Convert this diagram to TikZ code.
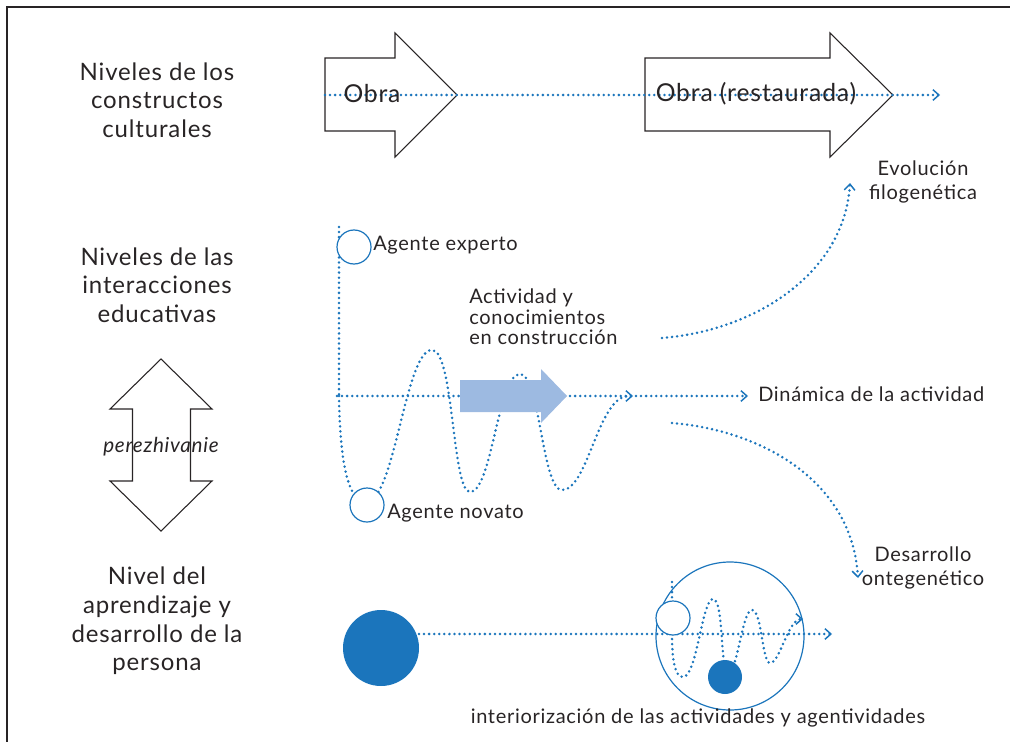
\documentclass[tikz,border=0pt]{standalone}
\usepackage{fontspec}
\setmainfont{Lato}[LetterSpace=3.5]
\usetikzlibrary{arrows.meta}
\definecolor{dotblue}{RGB}{27,117,188}
\definecolor{lightblue}{RGB}{157,186,225}
\definecolor{txt}{RGB}{40,36,37}
\begin{document}
\begin{tikzpicture}[x=0.75pt,y=-0.75pt,
  dotline/.style={draw=dotblue, line width=2.1pt, line cap=round, dash pattern=on 0pt off 3.8pt},
  tip/.style={-{Straight Barb[length=4.5pt,width=8pt,line width=1.1pt]}},
  blockarrow/.style={draw=txt, line width=0.8pt, fill=white},
  ring/.style={circle, draw=dotblue, line width=0.9pt, fill=white, inner sep=0pt},
  disc/.style={circle, fill=dotblue, draw=none, inner sep=0pt},
  bigtext/.style={text=txt, align=center, font=\fontsize{18}{21.5}\selectfont},
  midtext/.style={text=txt, font=\fontsize{15}{18}\selectfont},
  obratext/.style={text=txt, font=\fontsize{18.5}{20}\selectfont}]
\useasboundingbox (0,0) rectangle (1010,742);
% frame
\draw[line width=1.6pt, txt] (7,742) -- (7,7) -- (1010,7);

% left labels
\node[bigtext] (lv1) at (157,100) {Niveles de los\\constructos\\culturales};
\node[bigtext] (lv2) at (157,285) {Niveles de las\\interacciones\\educativas};
\node[bigtext] (lv3) at (157,621) {Nivel del\\aprendizaje y\\desarrollo de la\\persona};

% double arrow
\draw[blockarrow] (161,359) -- (212,409) -- (190.5,409) -- (190.5,481) -- (212,481) -- (161,531)
  -- (110,481) -- (132.5,481) -- (132.5,409) -- (110,409) -- cycle;
\node[text=txt, font=\fontsize{15.5}{16}\selectfont\itshape] (pz) at (161,447) {perezhivanie};

% top block arrows
\draw[blockarrow] (325,58) -- (395,58) -- (395,33) -- (457,95) -- (395,157) -- (395,131) -- (325,131) -- cycle;
\draw[blockarrow] (645,58) -- (830,58) -- (830,33) -- (893,95) -- (830,157) -- (830,131) -- (645,131) -- cycle;
\coordinate (t0) at (325,95);
\coordinate (t1) at (940,95);
\draw[dotline, tip] (t0) -- (t1);
\node[obratext] (obra1) at (372,94) {Obra};
\node[obratext] (obra2) at (756,94) {Obra (restaurada)};

% middle structure
\coordinate (v0) at (339,227);
\coordinate (v1) at (339,396);
\coordinate (h0) at (337,396);
\coordinate (h1) at (633,396);
\coordinate (h2) at (636,396);
\coordinate (h3) at (748,396);
\draw[dotline] (v0) -- (v1);
\draw[dotline, tip] (h0) -- (h1);
\draw[dotline, tip] (h2) -- (h3);
\draw[dotline] (v1) .. controls (340,470) and (350,502) .. (366,502)
  .. controls (395,502) and (405,350) .. (432,350)
  .. controls (454,350) and (452,492) .. (470,492)
  .. controls (492,492) and (498,374) .. (520,374)
  .. controls (540,374) and (542,490) .. (562,490)
  .. controls (588,490) and (598,397) .. (628,396);
\node[ring, minimum size=25.5pt] (exp) at (354,247) {};
\node[ring, minimum size=25.5pt] (nov) at (367,505) {};
\fill[lightblue] (460,380) -- (541,380) -- (541,369) -- (567,396) -- (541,423) -- (541,412) -- (460,412) -- cycle;
\node[midtext, anchor=west, inner sep=0pt] (lexp) at (373,245) {Agente experto};
\node[midtext, anchor=west, inner sep=0pt] (lnov) at (387,513) {Agente novato};
\node[midtext, anchor=west, align=left, inner sep=0pt, font=\fontsize{15}{15.5}\selectfont] (lact) at (469,317) {Actividad y\\conocimientos\\en construcción};
\node[midtext, anchor=west, inner sep=0pt] (ldin) at (758,394) {Dinámica de la actividad};

% evolution curves
\coordinate (e0) at (662,338);
\coordinate (e1) at (850,183);
\draw[dotline, tip] (e0) .. controls (760,330) and (845,270) .. (e1);
\node[midtext, align=center] (levo) at (923,182) {Evolución\\filogenética};
\coordinate (d0) at (672,423);
\coordinate (d1) at (858,578);
\draw[dotline, tip] (d0) .. controls (760,430) and (852,480) .. (d1);
\node[midtext, align=center] (ldes) at (923,568) {Desarrollo\\ontegenético};

% bottom
\node[disc, minimum size=57pt] (big) at (381,648) {};
\coordinate (b0) at (419,634);
\coordinate (b1) at (832,634);
\draw[dotline, tip] (b0) -- (b1);
\node[circle, draw=dotblue, line width=0.9pt, minimum size=111pt, inner sep=0pt] (globe) at (730,636) {};
\coordinate (m0) at (672,582);
\coordinate (m1) at (672,634);
\draw[dotline] (m0) -- (m1);
\draw[dotline, tip] (m1) .. controls (672,665) and (676,677) .. (683,677)
  .. controls (697,677) and (702,599) .. (713,599)
  .. controls (724,599) and (720,672) .. (728,672)
  .. controls (738,672) and (742,610) .. (752,610)
  .. controls (762,610) and (762,663) .. (770,663)
  .. controls (780,663) and (788,619) .. (803,619);
\node[ring, minimum size=25.5pt] (mring) at (673,618) {};
\node[disc, minimum size=25.5pt] (mdisc) at (725,677) {};
\node[midtext] (lint) at (698,718) {interiorización de las actividades y agentividades};
\end{tikzpicture}
\end{document}
